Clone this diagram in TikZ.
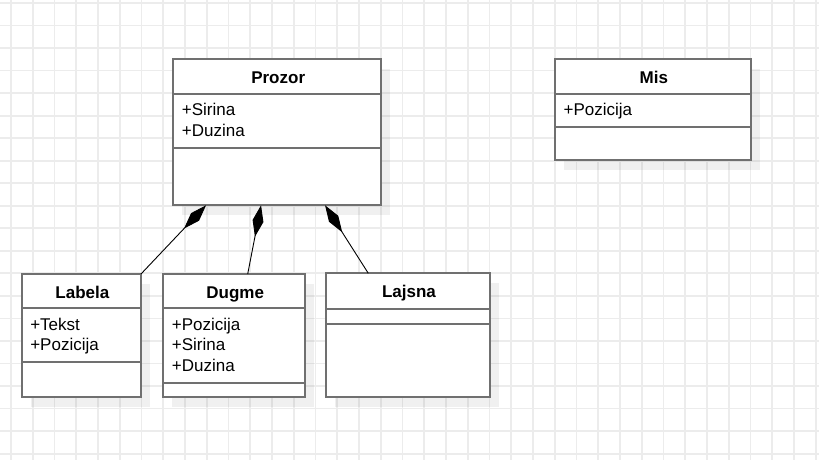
\documentclass[tikz,border=0pt]{standalone}
\usepackage{fontspec}
\setmainfont{Liberation Sans}
\usetikzlibrary{arrows.meta, calc, shadows}
\definecolor{gridgray}{RGB}{236,236,236}
\definecolor{boxgray}{RGB}{112,112,112}
\tikzset{classbox/.style={draw=boxgray, line width=2pt, fill=white, inner sep=0pt, outer sep=0pt,
           drop shadow={shadow xshift=9pt, shadow yshift=-10pt, fill=black, opacity=0.06}},
         classname/.style={font=\fontsize{17}{20}\selectfont\bfseries, anchor=base, inner sep=0pt},
         attr/.style={font=\fontsize{17}{20}\selectfont, anchor=base west, inner sep=0pt},
         divider/.style={boxgray, line width=2pt},
         gridline/.style={gridgray, line width=1.8pt},
         comp/.style={arrows={Diamond[length=32pt,width=11pt]-}, line width=0.9pt},
        }

\begin{document}
\begin{tikzpicture}[x=1pt,y=-1pt]
        \useasboundingbox (0,0) rectangle (819,460);
        % grid
        \foreach \i in {0,...,37} \draw[gridline] ({11+21.75*\i},0) -- ({11+21.75*\i},460);
        \foreach \j in {0,...,20} \draw[gridline] (0,{3+22.53*\j}) -- (819,{3+22.53*\j});

        % classes
        \node[classbox,minimum width=207.7pt,minimum height=146pt](prozor)at(277.2,132.3){};
        \node[classbox,minimum width=195.7pt,minimum height=100.7pt](mis)at(652.85,109.65){};
        \node[classbox,minimum width=119.3pt,minimum height=123.3pt](labela)at(81.35,335.65){};
        \node[classbox,minimum width=141.7pt,minimum height=123.3pt](dugme)at(234.15,335.65){};
        \node[classbox,minimum width=164pt,minimum height=124pt](lajsna)at(408,335.3){};

        \draw[divider]($(prozor.north west)+(0,34.7)$)--($(prozor.north east)+(0,34.7)$);
        \draw[divider]($(prozor.north west)+(0,89)$)--($(prozor.north east)+(0,89)$);
        \draw[divider]($(mis.north west)+(0,34.7)$)--($(mis.north east)+(0,34.7)$);
        \draw[divider]($(mis.north west)+(0,67.4)$)--($(mis.north east)+(0,67.4)$);
        \draw[divider]($(labela.north west)+(0,34.3)$)--($(labela.north east)+(0,34.3)$);
        \draw[divider]($(labela.north west)+(0,88.3)$)--($(labela.north east)+(0,88.3)$);
        \draw[divider]($(dugme.north west)+(0,34.3)$)--($(dugme.north east)+(0,34.3)$);
        \draw[divider]($(dugme.north west)+(0,109.3)$)--($(dugme.north east)+(0,109.3)$);
        \draw[divider]($(lajsna.north west)+(0,35.4)$)--($(lajsna.north east)+(0,35.4)$);
        \draw[divider]($(lajsna.north west)+(0,50.4)$)--($(lajsna.north east)+(0,50.4)$);

        % names and attributes
        \node[classname](prozorname)at($(prozor.north)+(1,24)$){Prozor};
        \node[attr](prozor1)at($(prozor.north west)+(8.4,56.4)$){+Sirina};
        \node[attr](prozor2)at($(prozor.north west)+(8.4,76.7)$){+Duzina};

        \node[classname](misname)at($(mis.north)+(1,24)$){Mis};
        \node[attr](mis1)at($(mis.north west)+(8.4,56.4)$){+Pozicija};

        \node[classname](labelaname)at($(labela.north)+(1,24)$){Labela};
        \node[attr](labela1)at($(labela.north west)+(8.4,56)$){+Tekst};
        \node[attr](labela2)at($(labela.north west)+(8.4,76.3)$){+Pozicija};

        \node[classname](dugmename)at($(dugme.north)+(1,24)$){Dugme};
        \node[attr](dugme1)at($(dugme.north west)+(8.4,56)$){+Pozicija};
        \node[attr](dugme2)at($(dugme.north west)+(8.4,76.5)$){+Sirina};
        \node[attr](dugme3)at($(dugme.north west)+(8.4,97)$){+Duzina};

        \node[classname](lajsnaname)at($(lajsna.north)+(1,24)$){Lajsna};

        % composition
        \draw[comp]($(prozor.south west)+(32.7,0)$)--(labela.north east);
        \draw[comp]($(prozor.south west)+(87.7,0)$)--($(dugme.north west)+(84.4,0)$);
        \draw[comp]($(prozor.south west)+(151.7,0)$)--($(lajsna.north west)+(42.3,0)$);
    \end{tikzpicture}
\end{document}
